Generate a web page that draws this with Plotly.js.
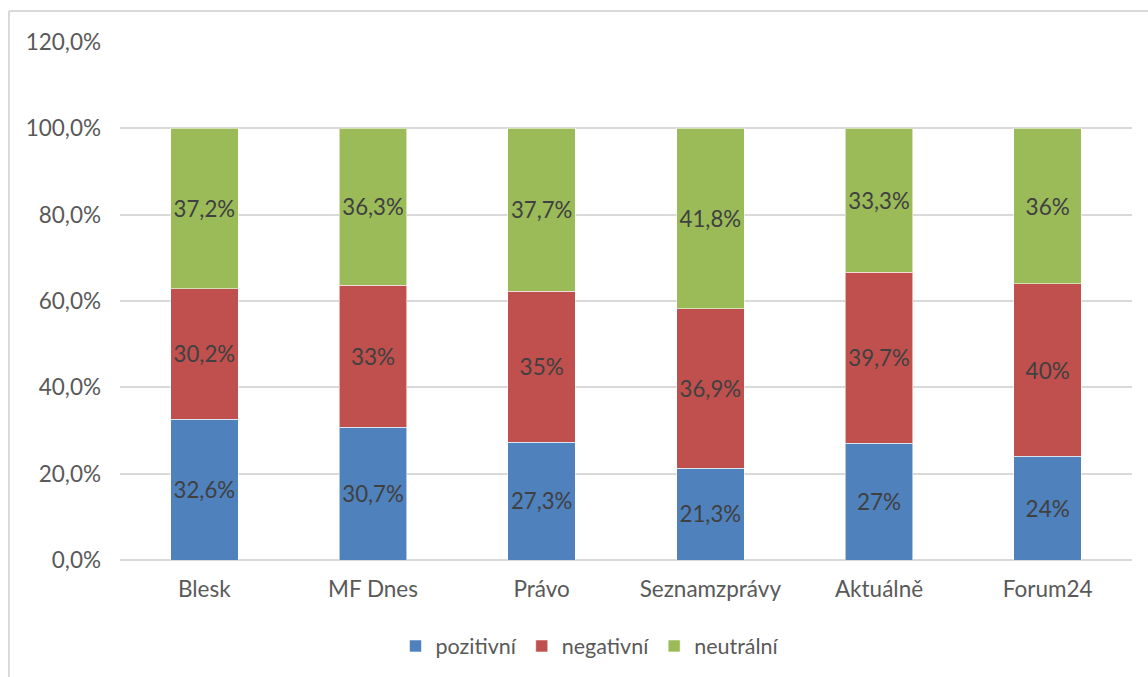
<!DOCTYPE html>
<html>
<head>
<meta charset="utf-8">
<script src="https://cdn.plot.ly/plotly-3.0.1.min.js"></script>
<style>html,body{margin:0;padding:0;background:#fff}#chart{width:1148px;height:677px}</style>
</head>
<body>
<div id="chart"></div>
<script>
const categories = ["Blesk", "MF Dnes", "Právo", "Seznamzprávy", "Aktuálně", "Forum24"];
const pozitivni = [32.6, 30.7, 27.3, 21.3, 27, 24];
const negativni = [30.2, 33, 35, 36.9, 39.7, 40];
const neutralni = [37.2, 36.3, 37.7, 41.8, 33.3, 36];
const seriesNames = ["pozitivní", "negativní", "neutrální"];
const seriesColors = ["#4F81BD", "#C0504D", "#9BBB59"];

const fontFamily = "Lato, 'Open Sans', sans-serif";
const lbl = v => String(v).replace('.', ',') + '%';

const traces = [pozitivni, negativni, neutralni].map((vals, i) => ({
  type: 'bar',
  name: seriesNames[i],
  x: categories,
  y: vals.map(v => v / 100),
  text: vals.map(lbl),
  textposition: 'inside',
  insidetextanchor: 'middle',
  textangle: 0,
  textfont: {family: fontFamily, size: 22.5, color: '#404040'},
  hoverinfo: 'skip',
  marker: {color: seriesColors[i], line: {color: 'rgba(255,255,255,0.55)', width: 1}}
}));

const L = 120, R = 16, T = 42, B = 116;
const W = 1148, H = 677;
const pw = W - L - R, ph = H - T - B;
const px = x => (x - L) / pw;
const py = y => (H - B - y) / ph;

const layout = {
  width: W, height: H,
  margin: {l: L, r: R, t: T, b: B, pad: 0},
  barmode: 'stack',
  bargap: 0.6,
  separators: ', ',
  paper_bgcolor: '#fff',
  plot_bgcolor: '#fff',
  font: {family: fontFamily, size: 22, color: '#595959'},
  showlegend: true,
  legend: {
    orientation: 'h', x: px(590), xanchor: 'center', y: py(646), yanchor: 'middle',
    font: {family: fontFamily, size: 21.5, color: '#595959'},
    traceorder: 'normal', itemclick: false, tracegroupgap: 0
  },
  xaxis: {
    type: 'category', showgrid: false, zeroline: false,
    showline: false, ticks: '', ticklabelstandoff: 13,
    tickfont: {family: fontFamily, size: 22.5, color: '#595959'},
    fixedrange: true
  },
  yaxis: {
    range: [0, 1.2], dtick: 0.2, tick0: 0, tickformat: '.1%',
    showgrid: true, gridcolor: '#d9d9d9', gridwidth: 2,
    zeroline: true, zerolinecolor: '#d9d9d9', zerolinewidth: 2,
    showline: false, ticks: '', ticklabelstandoff: 18,
    tickfont: {family: fontFamily, size: 22.5, color: '#595959'},
    fixedrange: true
  },
  shapes: [
    {type: 'line', xref: 'paper', yref: 'paper', x0: px(9), x1: px(1160), y0: py(11), y1: py(11), line: {color: '#d9d9d9', width: 2}, layer: 'below'},
    {type: 'line', xref: 'paper', yref: 'paper', x0: px(9), x1: px(9), y0: py(11), y1: py(690), line: {color: '#d9d9d9', width: 2}, layer: 'below'}
  ]
};

Plotly.newPlot('chart', traces, layout, {displayModeBar: false, staticPlot: true});
</script>
</body>
</html>
